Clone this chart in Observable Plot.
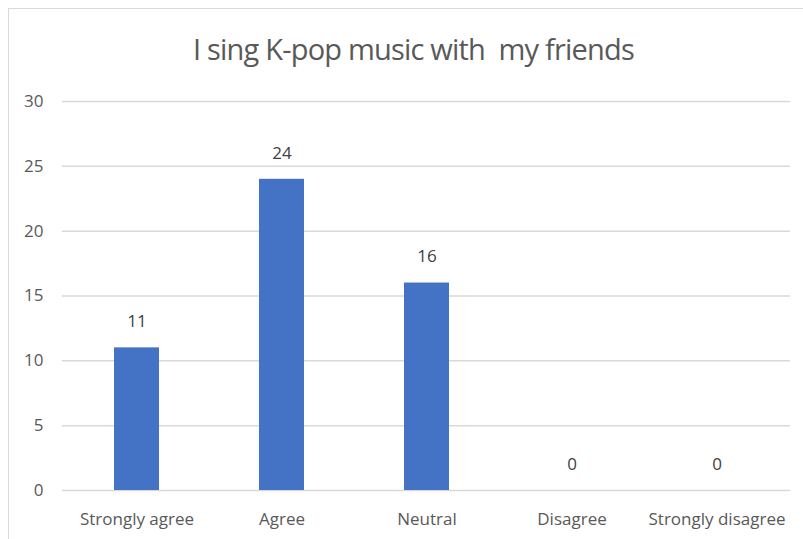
<!DOCTYPE html>
<html>
<head>
<meta charset="utf-8">
<script src="https://cdn.jsdelivr.net/npm/d3@7"></script>
<script src="https://cdn.jsdelivr.net/npm/@observablehq/plot@0.6"></script>
<style>
  html, body { margin: 0; padding: 0; background: #fff; }
  body { width: 803px; height: 539px; overflow: hidden; position: relative; font-family: "Open Sans", sans-serif; }
  #frame { position: absolute; left: 8px; top: 8px; width: 820px; height: 560px; border-left: 1.5px solid #d9d9d9; border-top: 1.5px solid #d9d9d9; box-sizing: border-box; }
  #title { position: relative; height: 80px; overflow: visible; text-align: center; font-family: "Open Sans", sans-serif; font-size: 29px; color: #595959; line-height: 98px; padding-left: 24px; white-space: pre; letter-spacing: -0.8px; }
  #chart { position: relative; }
</style>
</head>
<body>
<div id="frame"></div>
<div id="title">I sing K-pop music with  my friends</div>
<div id="chart"></div>
<script>
const categories = ["Strongly agree", "Agree", "Neutral", "Disagree", "Strongly disagree"];
const counts = [11, 24, 16, 0, 0];
const yTicks = [0, 5, 10, 15, 20, 25, 30];

const data = categories.map((c, i) => ({category: c, count: counts[i]}));

const chart = Plot.plot({
  width: 803,
  height: 459,
  marginLeft: 62,
  marginRight: 13,
  marginTop: 21,
  marginBottom: 49,
  style: {fontFamily: "Open Sans, sans-serif", fontSize: "17px", color: "#595959", background: "transparent"},
  x: {domain: categories, paddingInner: 0.69, paddingOuter: 0.345, label: null, tickSize: 0, tickPadding: 22},
  y: {domain: [0, 30], ticks: yTicks, label: null, tickSize: 0, tickPadding: 19},
  marks: [
    Plot.gridY(yTicks, {stroke: "#d9d9d9", strokeOpacity: 1, strokeWidth: 1.5}),
    Plot.barY(data, {x: "category", y: "count", fill: "#4472C4"}),
    Plot.text(data, {x: "category", y: "count", text: d => String(d.count), dy: -26, fill: "#404040", fontSize: 17})
  ]
});
document.getElementById("chart").appendChild(chart);
</script>
</body>
</html>
